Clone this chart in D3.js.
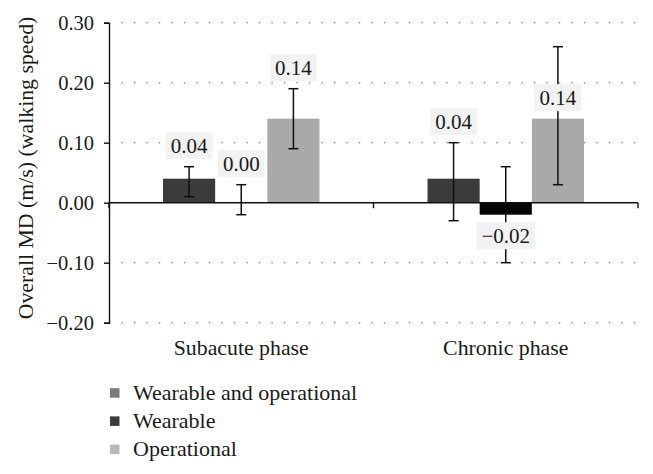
<!DOCTYPE html>
<html><head><meta charset="utf-8">
<script src="https://cdn.jsdelivr.net/npm/d3@7"></script>
<style>body{margin:0;background:#fff}svg{display:block}</style>
</head><body><svg id="c" width="653" height="474"></svg>
<script>
const categories = ["Subacute phase", "Chronic phase"];
const series = ["Wearable and operational", "Wearable", "Operational"];
const values = [[0.04, 0.00, 0.14], [0.04, -0.02, 0.14]];
const errLow = [[0.01, -0.02, 0.09], [-0.03, -0.10, 0.03]];
const errHigh = [[0.06, 0.03, 0.19], [0.10, 0.06, 0.26]];
const labels = [["0.04", "0.00", "0.14"], ["0.04", "\u22120.02", "0.14"]];
const labelAnchor = [["err", "err", "err"], ["err", "bar", "bar"]];
const yTicks = [-0.2, -0.1, 0, 0.1, 0.2, 0.3];
const barColors = ["#3b3b3b", "#060606", "#a9a9a9"];
const legendColors = ["#7a7a7a", "#3c3c3c", "#b9b9b9"];

const FF = '"Liberation Serif"';
const svg = d3.select("#c").style("font-family", FF);
const L = 109, R = 638, T = 22.7, B = 322.7;
const y = d3.scaleLinear().domain([-0.2, 0.3]).range([B, T]);
const x0 = d3.scaleBand().domain(categories).range([L, R]).padding(0);
const gw = x0.bandwidth();
const x1 = d3.scaleBand().domain(series).range([54, gw - 54]).padding(0);
const txt = (sel, size) => sel.style("font-family", FF).style("font-size", size + "px").style("fill", "#1a1a1a");

// gridlines
svg.append("g").selectAll("line").data(yTicks.filter(t => t !== 0)).join("line")
  .attr("x1", L + 13).attr("x2", R).attr("y1", d => y(d)).attr("y2", d => y(d))
  .attr("stroke", "#888").attr("stroke-width", 1.6).attr("stroke-linecap", "round")
  .attr("stroke-dasharray", "0.1 12.4");

// y axis
const fmt = d => d < 0 ? "\u2212" + Math.abs(d).toFixed(2) : d.toFixed(2);
const ya = svg.append("g").attr("transform", `translate(${L},0)`)
  .call(d3.axisLeft(y).tickValues(yTicks).tickFormat(fmt).tickSize(5).tickPadding(10));
ya.attr("font-family", null).attr("font-size", null);
ya.select(".domain").attr("stroke", "#111").attr("stroke-width", 1.4);
ya.selectAll(".tick line").attr("stroke", "#111").attr("stroke-width", 1.4);
txt(ya.selectAll("text"), 20.5);

// bars
categories.forEach((c, ci) => {
  const g = svg.append("g").attr("transform", `translate(${x0(c)},0)`);
  g.selectAll("rect").data(values[ci]).join("rect")
    .attr("x", (d, i) => x1(series[i])).attr("width", x1.bandwidth())
    .attr("y", d => y(Math.max(0, d))).attr("height", d => Math.abs(y(d) - y(0)))
    .attr("fill", (d, i) => barColors[i]);
});

// x axis line (zero line) and ticks
svg.append("line").attr("x1", L).attr("x2", R).attr("y1", y(0)).attr("y2", y(0))
  .attr("stroke", "#111").attr("stroke-width", 1.4);
const xt = [L, x0(categories[1]), R];
svg.append("g").selectAll("line").data(xt).join("line")
  .attr("x1", d => d).attr("x2", d => d).attr("y1", y(0)).attr("y2", y(0) + 5.5)
  .attr("stroke", "#111").attr("stroke-width", 1.4);

// error bars
categories.forEach((c, ci) => {
  series.forEach((s, si) => {
    const cx = x0(c) + x1(s) + x1.bandwidth() / 2;
    const g = svg.append("g").attr("stroke", "#111").attr("stroke-width", 1.5);
    g.append("line").attr("x1", cx).attr("x2", cx).attr("y1", y(errLow[ci][si])).attr("y2", y(errHigh[ci][si]));
    [errLow[ci][si], errHigh[ci][si]].forEach(v => {
      g.append("line").attr("x1", cx - 5).attr("x2", cx + 5).attr("y1", y(v)).attr("y2", y(v));
    });
  });
});

// data labels
categories.forEach((c, ci) => {
  series.forEach((s, si) => {
    const cx = x0(c) + x1(s) + x1.bandwidth() / 2;
    const v = values[ci][si];
    let cy;
    if (labelAnchor[ci][si] === "err") cy = y(errHigh[ci][si]) - 21;
    else cy = v >= 0 ? y(v) - 21 : y(v) + 21;
    const t = svg.append("text").attr("x", cx).attr("y", cy + 7).attr("text-anchor", "middle")
      .text(labels[ci][si]);
    txt(t, 21);
    const w = t.node().getComputedTextLength();
    svg.insert("rect", () => t.node()).attr("x", cx - w / 2 - 5).attr("y", cy - 13.5)
      .attr("width", w + 10).attr("height", 27).attr("fill", "#f2f2f2");
  });
});

// category labels
txt(svg.append("g").selectAll("text").data(categories).join("text")
  .attr("x", d => x0(d) + gw / 2).attr("y", 355).attr("text-anchor", "middle")
  .text(d => d), 21.8);

// y title
txt(svg.append("text").attr("transform", `translate(33,${(15 + 321) / 2}) rotate(-90)`)
  .attr("text-anchor", "middle").text("Overall MD (m/s) (walking speed)"), 21.8);

// legend
const lg = svg.append("g").selectAll("g").data(series).join("g")
  .attr("transform", (d, i) => `translate(110,${392.7 + i * 28.2})`);
lg.append("rect").attr("x", 0).attr("y", -4.5).attr("width", 9.5).attr("height", 9.5)
  .attr("fill", (d, i) => legendColors[i]);
txt(lg.append("text").attr("x", 23).attr("y", 7).text(d => d), 22);
</script></body></html>
